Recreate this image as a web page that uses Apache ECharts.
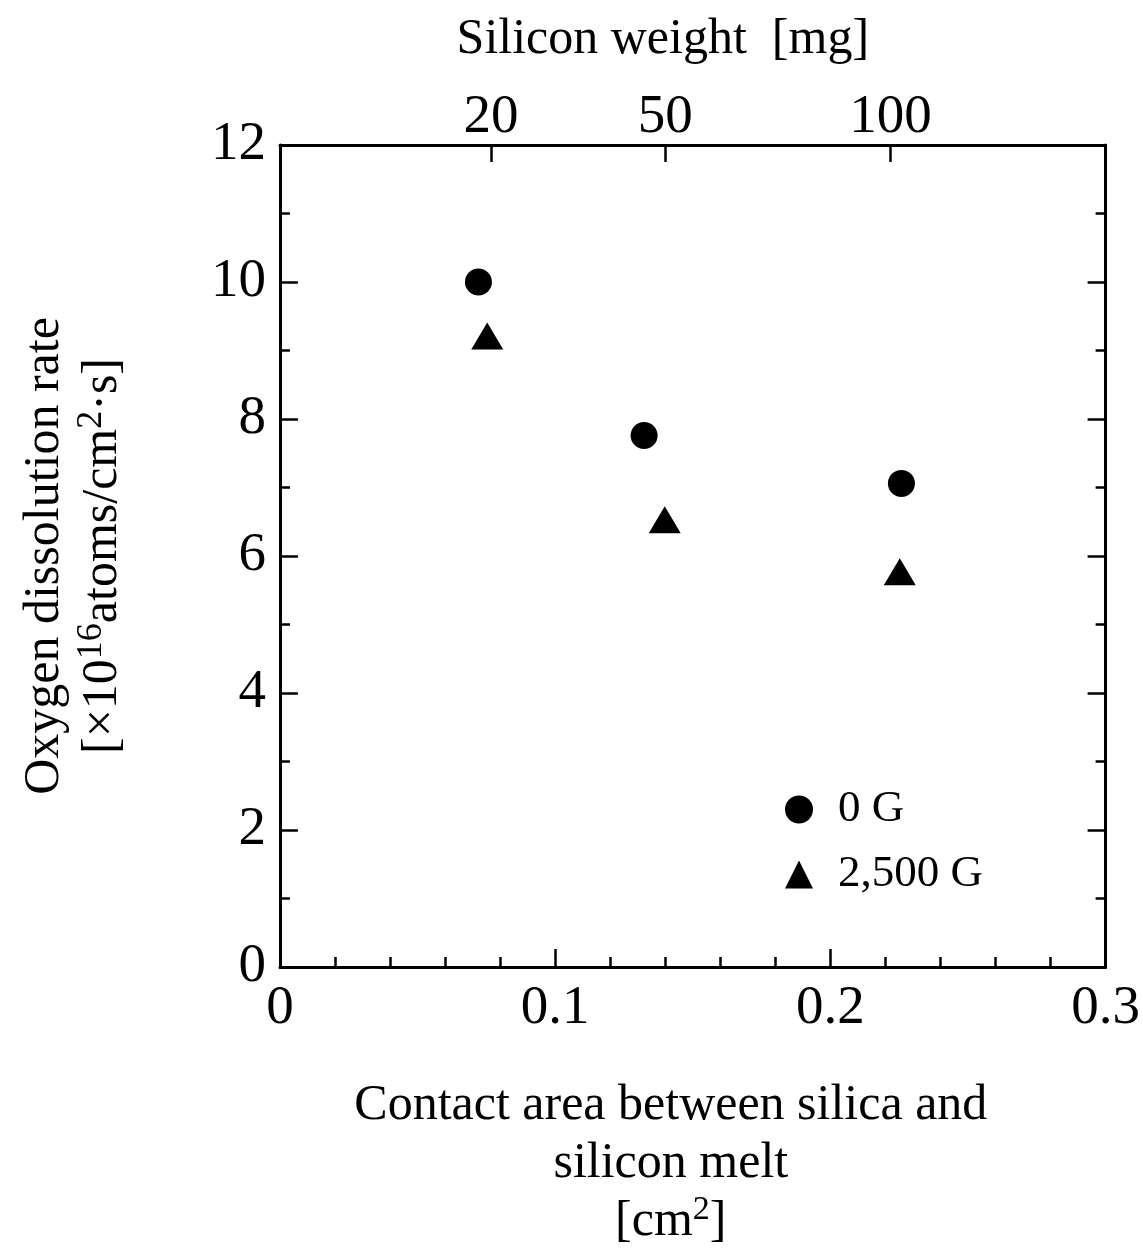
<!DOCTYPE html>
<html>
<head>
<meta charset="utf-8">
<script src="https://cdn.jsdelivr.net/npm/echarts@6/dist/echarts.min.js"></script>
<style>
  html, body { margin: 0; padding: 0; background: #fff; }
  #chart { width: 1143px; height: 1257px; }
</style>
</head>
<body>
<div id="chart"></div>
<script>
// contact area [cm2] vs oxygen dissolution rate [x1e16 atoms/cm2.s]
const area0G = [0.0721, 0.1323, 0.2258];
const rate0G = [10.0, 7.76, 7.06];
const area2500G = [0.0753, 0.1398, 0.2252];
const rate2500G = [9.21, 6.53, 5.77];

// top axis: silicon weight ticks placed at their contact area
const weightArea = [0.0767, 0.1400, 0.2218];
const weightLabels = ['20', '50', '100'];

const FONT = '"Liberation Serif", "DejaVu Serif", serif';
const INK = '#000';
const X_MAX = 0.3;
const Y_MAX = 12;

const pairs = (xs, ys) => xs.map((x, i) => [x, ys[i]]);

const frameLine = { show: true, onZero: false, lineStyle: { color: INK, width: 3 } };
const tickStyle = { color: INK, width: 2.5 };

// fine category grid over 0..0.3 so the top ticks can be picked out by index
const STEP = 0.0001;
const fineCats = Array.from({ length: Math.round(X_MAX / STEP) + 1 }, (_, i) => String(i));
const weightIdx = weightArea.map(x => Math.round(x / STEP));

const option = {
    backgroundColor: '#fff',
    animation: false,
    textStyle: { fontFamily: FONT, color: INK },
    grid: { left: 280, right: 37, top: 145, bottom: 290 },
    legend: {
        orient: 'vertical',
        left: 780,
        top: 782,
        itemWidth: 28,
        itemHeight: 28,
        itemGap: 20,
        textStyle: { fontFamily: FONT, fontSize: 45, color: INK, padding: [0, 0, 0, 20] },
        data: [
            { name: '0 G', icon: 'circle' },
            { name: '2,500 G', icon: 'triangle' }
        ]
    },
    xAxis: [
        {
            type: 'value',
            position: 'bottom',
            min: 0, max: X_MAX, interval: 0.1,
            name: '{t|Contact area between silica and}\n{t|silicon melt}\n{t|[cm}{sup|2}{t|]}',
            nameLocation: 'middle',
            nameGap: 110,
            nameTextStyle: {
                padding: [0, 44, 0, 0],
                rich: {
                    t: { fontFamily: FONT, fontSize: 50, lineHeight: 58, color: INK },
                    sup: { fontFamily: FONT, fontSize: 34, lineHeight: 22, verticalAlign: 'top', color: INK }
                }
            },
            axisLine: frameLine,
            axisTick: { inside: true, length: 18, lineStyle: tickStyle },
            minorTick: { show: true, splitNumber: 5, length: 10, lineStyle: tickStyle },
            splitLine: { show: false },
            axisLabel: {
                margin: 14, fontFamily: FONT, fontSize: 55, color: INK,
                formatter: v => String(+v.toFixed(1))
            }
        },
        {
            type: 'value',
            position: 'top',
            min: 0, max: X_MAX,
            name: 'Silicon weight  [mg]',
            nameLocation: 'middle',
            nameGap: 80,
            nameTextStyle: { fontFamily: FONT, fontSize: 50, color: INK, padding: [0, 60, 0, 0] },
            axisLine: frameLine,
            axisTick: { show: false },
            splitLine: { show: false },
            axisLabel: {
                show: true,
                margin: 0, fontFamily: FONT, fontSize: 55, color: INK,
                customValues: weightArea,
                formatter: v => weightLabels[weightArea.indexOf(v)]
            }
        },
        {
            // carries only the inward ticks of the silicon weight axis
            type: 'category',
            position: 'top',
            boundaryGap: false,
            data: fineCats,
            axisLine: { show: false, onZero: false },
            axisLabel: { show: false },
            splitLine: { show: false },
            axisTick: {
                show: true,
                inside: true,
                length: 17,
                interval: idx => weightIdx.indexOf(idx) >= 0,
                lineStyle: tickStyle
            }
        }
    ],
    yAxis: [
        {
            type: 'value',
            position: 'left',
            min: 0, max: Y_MAX, interval: 2,
            name: '{t|Oxygen dissolution rate}\n{t|[×10}{sup|16}{t|atoms/cm}{sup|2}{t|·s]}',
            nameLocation: 'middle',
            nameRotate: 90,
            nameGap: 148,
            nameTextStyle: {
                rich: {
                    t: { fontFamily: FONT, fontSize: 50, lineHeight: 58, color: INK },
                    sup: { fontFamily: FONT, fontSize: 36, lineHeight: 20, verticalAlign: 'top', color: INK }
                }
            },
            axisLine: frameLine,
            axisTick: { inside: true, length: 18, lineStyle: tickStyle },
            minorTick: { show: true, splitNumber: 2, length: 10, lineStyle: tickStyle },
            splitLine: { show: false },
            axisLabel: { margin: 14, fontFamily: FONT, fontSize: 55, color: INK }
        },
        {
            type: 'value',
            position: 'right',
            min: 0, max: Y_MAX, interval: 2,
            axisLine: frameLine,
            axisTick: { inside: true, length: 18, lineStyle: tickStyle },
            minorTick: { show: true, splitNumber: 2, length: 10, lineStyle: tickStyle },
            splitLine: { show: false },
            axisLabel: { show: false }
        }
    ],
    series: [
        {
            name: '0 G',
            type: 'scatter',
            symbol: 'circle',
            symbolSize: 27,
            itemStyle: { color: INK, opacity: 1 },
            data: pairs(area0G, rate0G)
        },
        {
            name: '2,500 G',
            type: 'scatter',
            symbol: 'triangle',
            symbolSize: [32, 27],
            itemStyle: { color: INK, opacity: 1 },
            data: pairs(area2500G, rate2500G)
        }
    ]
};

const chart = echarts.init(document.getElementById('chart'), null, { renderer: 'canvas' });
chart.setOption(option);
</script>
</body>
</html>
